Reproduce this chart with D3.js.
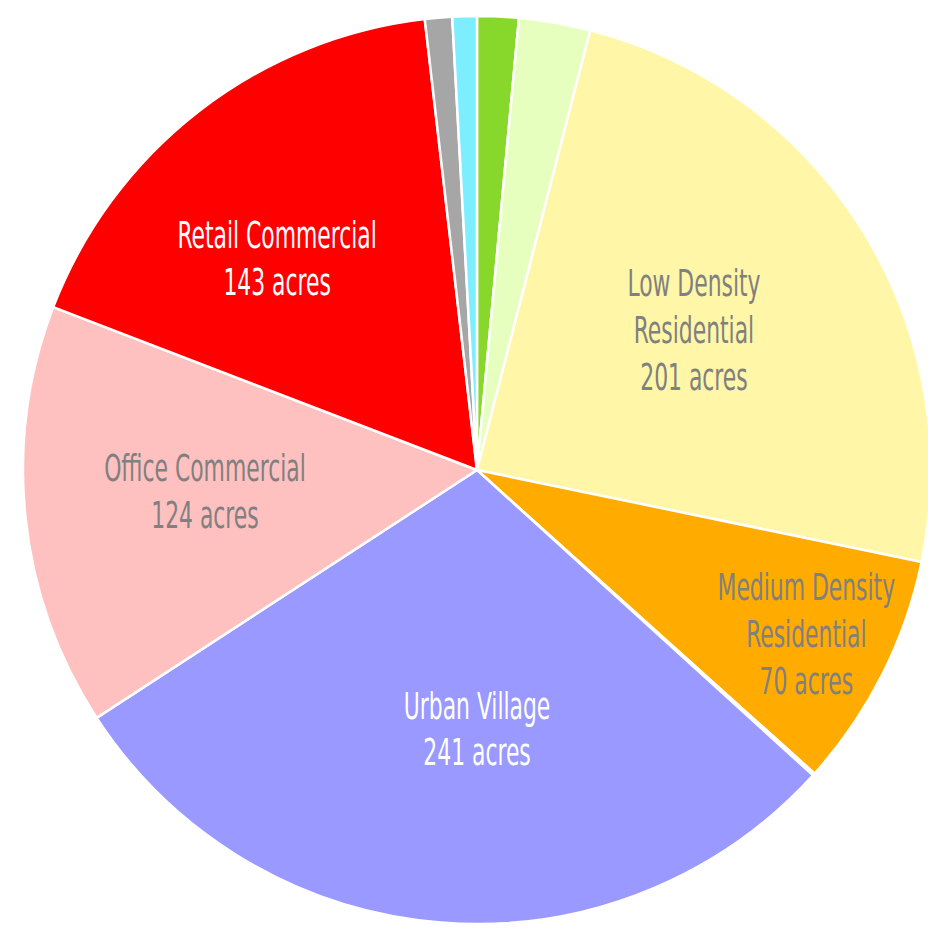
<!DOCTYPE html>
<html>
<head>
<meta charset="utf-8">
<script src="https://cdn.jsdelivr.net/npm/d3@7"></script>
<style>
  body { margin: 0; background: #fff; }
  #chart text { font-family: "DejaVu Sans Condensed", "Liberation Sans Narrow", sans-serif; }
</style>
</head>
<body>
<div id="chart"></div>
<script>
// land use categories, clockwise from 12 o'clock
var categories = ["Parks", "Open Space", "Low Density Residential", "Medium Density Residential",
                  "High Density Residential", "Urban Village", "Office Commercial",
                  "Retail Commercial", "Public", "Water"];
var acres = [12.2, 21, 200.6, 69.6, 0.7, 240.6, 124.4, 143.4, 8, 7.2];
var colors = ["#88d82c", "#e6ffbf", "#fff6a8", "#ffab00", "#b07a10",
              "#9999ff", "#ffc0c0", "#ff0000", "#a6a6a6", "#7deeff"];
// which slices get a text label, and how the label lines break
var labelLines = {
  "Low Density Residential": ["Low Density", "Residential"],
  "Medium Density Residential": ["Medium Density", "Residential"],
  "Urban Village": ["Urban Village"],
  "Office Commercial": ["Office Commercial"],
  "Retail Commercial": ["Retail Commercial"]
};
var labelColor = {
  "Low Density Residential": "#808080",
  "Medium Density Residential": "#808080",
  "Urban Village": "#ffffff",
  "Office Commercial": "#808080",
  "Retail Commercial": "#ffffff"
};
// label placement: [share of radius, nudge off the mid angle in degrees]
var labelPlace = {
  "Low Density Residential": [0.57, -1.1],
  "Medium Density Residential": [0.81, -0.4],
  "Urban Village": [0.569, -4.6],
  "Office Commercial": [0.601, 1.7],
  "Retail Commercial": [0.642, -5.5]
};

var width = 928, height = 936;
var cx = 477, cy = 470, radius = 454;

var svg = d3.select("#chart").append("svg")
  .attr("width", width)
  .attr("height", height);

var g = svg.append("g").attr("transform", "translate(" + cx + "," + cy + ")");

var data = categories.map(function(c, i) { return {name: c, value: acres[i], color: colors[i]}; });

var pie = d3.pie().sort(null).value(function(d) { return d.value; });
var arc = d3.arc().innerRadius(0).outerRadius(radius);

var arcs = pie(data);

g.selectAll("path.slice")
  .data(arcs)
  .enter().append("path")
  .attr("class", "slice")
  .attr("d", arc)
  .attr("fill", function(d) { return d.data.color; })
  .attr("stroke", "#fff")
  .attr("stroke-width", 2.5)
  .attr("stroke-linejoin", "round");

var lineH = 47;
var labels = g.selectAll("g.label")
  .data(arcs.filter(function(d) { return labelLines[d.data.name]; }))
  .enter().append("g")
  .attr("class", "label")
  .attr("transform", function(d) {
    var p = labelPlace[d.data.name];
    var r = radius * p[0];
    var a = (d.startAngle + d.endAngle) / 2 + p[1] * Math.PI / 180;
    return "translate(" + (Math.sin(a) * r) + "," + (-Math.cos(a) * r) + ")";
  });

labels.each(function(d) {
  var lines = labelLines[d.data.name].concat([d3.format(".0f")(d.data.value) + " acres"]);
  var top = -(lines.length - 1) * lineH / 2;
  var t = d3.select(this).append("text")
    .attr("text-anchor", "middle")
    .attr("transform", "scale(0.64,1)")
    .attr("fill", labelColor[d.data.name])
    .style("font-size", "38px");
  lines.forEach(function(l, i) {
    t.append("tspan")
      .attr("x", 0)
      .attr("y", top + i * lineH)
      .attr("dy", "0.36em")
      .text(l);
  });
});
</script>
</body>
</html>
